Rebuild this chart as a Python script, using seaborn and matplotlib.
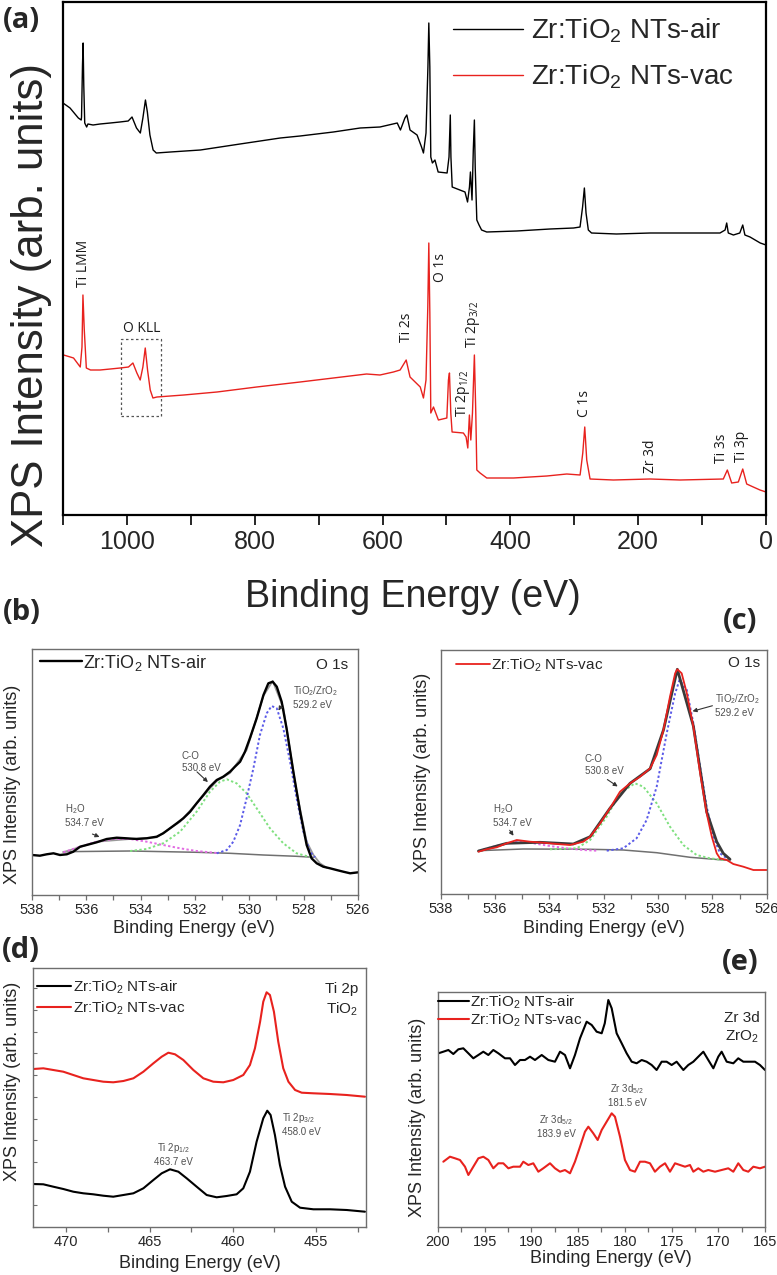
import matplotlib
matplotlib.use("Agg")
import matplotlib.pyplot as plt
import matplotlib.patches as patches
from matplotlib.ticker import MultipleLocator
import seaborn as sns

# ---------------- data ----------------
# (a) survey spectra: binding energy (eV) / intensity (arb.)
air_survey_ev = [1100, 1089, 1076, 1071.5, 1071, 1069.5, 1068.5, 1067.5, 1066, 1063, 1061, 1053, 1042, 1026, 1011, 998,
                 992, 985, 979, 975, 971, 968, 964, 959, 954, 932, 885, 823, 760, 729, 677, 635, 604, 577, 572, 565,
                 562, 557, 546, 539, 536, 532, 529, 527.6, 526, 524.5, 522, 518, 513, 499, 496, 494, 493, 491, 479,
                 471, 467, 464, 462.5, 460, 458, 456.3, 455, 452.5, 449, 445, 437, 390, 338, 301, 291, 287, 284.2,
                 281.6, 278, 273, 234, 181, 129, 72, 64, 61.5, 59, 51, 41, 36.4, 33, 25, 17, 9, 0]
air_survey_int = [412, 407, 397, 395, 398, 450, 472, 430, 392, 388, 391, 390, 391, 392, 393, 394,
                  398, 387, 382, 397, 415, 403, 380, 365, 362, 363, 365, 371, 377, 379, 383, 387, 388, 392, 385, 397,
                  400, 385, 380, 368, 362, 382, 448, 492, 448, 358, 352, 355, 343, 342, 358, 400, 358, 328, 325,
                  323, 313, 328, 343, 315, 365, 395, 348, 295, 290, 285, 283, 284, 286, 287, 288, 308, 327,
                  302, 285, 282, 281, 282, 282, 282, 285, 292, 282, 280, 282, 290, 280, 278, 275, 272, 270]
vac_survey_ev = [1099, 1083.5, 1073, 1070.3, 1068.8, 1066.7, 1063.5, 1057, 1042, 1026, 1010.5, 997.5, 990.6, 984.4,
                 979.2, 975, 971.3, 967.7, 963.5, 959.3, 953, 911, 859, 797, 729, 677, 625, 604, 583, 572.5, 563,
                 557, 549, 541, 536, 532, 529.2, 527.6, 526, 524.5, 520.3, 512.6, 499.4, 496.9, 495.3, 493.2, 491.2,
                 473.5, 469.3, 466.6, 464.1, 461.9, 459.3, 456.3, 454.1, 452.5, 447.4, 436.9, 395, 343, 311.7,
                 290.9, 286.7, 283.6, 280.5, 275.3, 238.8, 181.4, 134.5, 66.8, 60.5, 53.7, 43.3, 36.4, 30.2, 19.9,
                 9.4, 0]
vac_survey_int = [160, 157, 148, 168, 220, 185, 147, 145, 145, 146, 147, 148, 152, 142,
                  135, 148, 167, 145, 125, 117, 118, 120, 123, 128, 133, 137, 141, 140, 143, 145, 155,
                  138, 133, 128, 117, 135, 208, 272, 202, 102, 108, 95, 97, 135, 142, 102, 83,
                  82, 78, 67, 100, 75, 102, 160, 102, 45, 42, 37, 37, 39, 41,
                  40, 62, 88, 55, 36, 35, 36, 35, 36, 45, 32, 33, 46, 31, 28,
                  25, 23]
survey_labels = ["Ti LMM", "Ti 2s", "O 1s", r"Ti 2p$_{1/2}$", r"Ti 2p$_{3/2}$", "C 1s", "Zr 3d", "Ti 3s", "Ti 3p"]
survey_label_ev = [1068, 562, 510, 473.5, 459, 284.7, 180, 69.6, 38.3]
survey_label_int = [228, 173, 233, 98, 167, 98, 42, 52, 53]
okll_box_ev = (1009, 946)
okll_box_int = (99, 176)

# (b) O 1s, air sample and its fit
b_air_ev = [538.0, 537.71, 537.46, 537.21, 536.97, 536.72, 536.48, 536.23, 535.99, 535.62, 535.25, 534.88,
            534.52, 534.15, 533.78, 533.41, 533.17, 532.92, 532.67, 532.43, 532.18, 531.94, 531.69, 531.45,
            531.2, 530.96, 530.71, 530.53, 530.34, 530.16, 529.98, 529.73, 529.48, 529.3, 529.14, 528.99,
            528.81, 528.63, 528.38, 528.13, 527.89, 527.71, 527.52, 527.28, 527.03, 526.79, 526.54, 526.29, 525.99]
b_air_int = [40, 39.3, 40.7, 41.7, 40, 40.7, 43.3, 48.3, 50, 52.7, 56, 57.3,
             56.7, 56, 56.7, 58.3, 61.7, 66.7, 71.7, 76.7, 83.3, 91.7, 100, 108.3,
             115, 118.3, 123.3, 128.3, 133.3, 143.3, 156.7, 176.7, 200, 211.7, 213.3, 208.3,
             193.3, 166.7, 123.3, 83.3, 50, 36.7, 31.7, 28.3, 26.7, 25, 23.3, 21.7, 22.7]
b_env_ev = [536.85, 535.62, 534.39, 533.41, 532.55, 531.69, 531.2, 530.71, 530.1, 529.48, 529.14, 528.75, 528.26,
            527.89, 527.64, 527.4, 527.15]
b_env_int = [42.7, 53.3, 56, 57.7, 73.3, 99.3, 114, 122, 145, 199.3, 214, 187.3, 103.3, 53.3, 40, 31.7, 27.3]
b_bg_ev = [536.85, 534.39, 531.94, 530.71, 529.48, 528.26, 527.64]
b_bg_int = [43.3, 44, 42.7, 41.7, 40, 38.7, 37.7]
b_oxide_ev = [531.2, 530.83, 530.59, 530.34, 530.1, 529.85, 529.61, 529.36, 529.18, 528.99, 528.75, 528.5, 528.26,
              528.01, 527.77, 527.58]
b_oxide_int = [41.7, 45, 53.3, 70, 96.7, 126.7, 160, 181.7, 189, 186.7, 166.7, 133.3, 96.7, 63.3, 43.3, 37.7]
b_co_ev = [534.39, 533.78, 533.17, 532.55, 531.94, 531.45, 531.08, 530.83, 530.47, 530.1, 529.73, 529.24, 528.75,
           528.26, 527.77]
b_co_int = [44, 46, 51.7, 63.3, 83.3, 103.3, 113.3, 115.7, 111.7, 101.7, 86.7, 66.7, 51.7, 41.7, 38]
b_h2o_ev = [536.85, 536.23, 535.62, 535.01, 534.39, 533.78, 533.17, 532.55, 531.94, 531.2]
b_h2o_int = [42.7, 48.3, 53.3, 56, 56, 53.3, 50, 46.7, 44, 42]

# (c) O 1s, vacuum sample and its fit
c_vac_ev = [536.61, 536.31, 535.94, 535.57, 535.2, 534.71, 534.22, 533.73, 533.24, 532.75, 532.5, 532.13, 531.77,
            531.4, 531.03, 530.66, 530.29, 530.05, 529.8, 529.56, 529.37, 529.29, 529.13, 528.94, 528.7, 528.45,
            528.21, 528.02, 527.84, 527.72, 527.47, 527.23, 526.86, 526.49, 526.0]
c_vac_int = [42.3, 44.7, 46.7, 50.7, 54, 52.3, 51.3, 50, 49, 52.3, 57.3, 70.7, 85.7,
             102.3, 110.7, 117.3, 125.7, 139, 164, 197.3, 220.7, 224.7, 220.7, 200.7, 167.3, 120.7,
             80.7, 57.3, 40.7, 35.7, 34, 30, 27.3, 24, 24]
c_env_ev = [536.61, 535.57, 534.34, 533.12, 532.5, 531.77, 531.03, 530.29, 529.8, 529.29, 528.7, 528.21, 527.84,
            527.6, 527.35]
c_env_int = [43, 50.7, 51.7, 50, 57.3, 85.7, 110.7, 125.3, 164, 224.7, 168, 82.3, 52.3, 40.7, 34.7]
c_bg_ev = [536.61, 534.96, 532.5, 531.28, 530.05, 528.82, 527.6, 527.35]
c_bg_int = [43.3, 45, 44.7, 44, 41.3, 36.7, 34, 34]
c_oxide_ev = [531.89, 531.28, 530.79, 530.42, 530.05, 529.68, 529.37, 529.21, 528.94, 528.7, 528.45, 528.21, 527.96,
              527.72, 527.47]
c_oxide_int = [43.3, 45.7, 55.7, 74, 107.3, 160.7, 200.7, 214, 204, 170.7, 127.3, 87.3, 57.3, 40.7, 35.7]
c_co_ev = [533.98, 532.99, 532.5, 531.89, 531.4, 530.85, 530.54, 530.05, 529.56, 529.07, 528.58, 528.09, 527.6]
c_co_int = [44.7, 45.7, 54, 77.3, 100.7, 110.7, 107.3, 90.7, 67.3, 49, 39, 35.7, 34]
c_h2o_ev = [536.43, 535.82, 535.2, 534.59, 533.98, 533.36, 532.75, 532.26]
c_h2o_int = [44.7, 49, 52.3, 50.7, 48, 45.7, 44, 43.3]

# (d) Ti 2p
d_ev = [471.98, 471.38, 470.78, 470.18, 469.58, 468.98, 468.38, 467.78, 467.18, 466.57, 465.97, 465.37, 464.77,
        464.27, 463.87, 463.47, 462.97, 462.37, 461.77, 461.17, 460.57, 459.97, 459.37, 458.97, 458.67, 458.36,
        458.17, 457.97, 457.77, 457.53, 457.27, 456.97, 456.66, 456.26, 455.86, 455.16, 454.16, 453.16, 452.06]
d_vac_int = [158, 158.7, 157, 155.3, 152, 148.7, 147, 145.3, 144.7, 146, 148.7, 155.3, 163.7,
             170.3, 174.3, 172.7, 167, 157, 148.7, 145.3, 144.7, 147, 152, 162, 178.7, 205.3,
             225.3, 234.7, 232, 215.3, 185.3, 158.7, 145.3, 137, 134.3, 133.7, 133, 132, 130.3]
d_air_ev = [471.98, 471.38, 470.78, 470.18, 469.58, 468.98, 468.38, 467.78, 467.18, 466.57, 465.97, 465.37, 464.77,
            464.27, 463.77, 463.27, 462.77, 462.17, 461.57, 460.97, 460.37, 459.77, 459.37, 458.97, 458.57, 458.17,
            457.93, 457.73, 457.47, 457.17, 456.86, 456.46, 455.96, 455.16, 454.16, 453.16, 452.06]
d_air_int = [43, 42.7, 40.3, 38, 35.3, 33.7, 32.7, 31.3, 30.3, 32, 33.7, 38.7, 47,
             53.7, 57.7, 55.3, 48.7, 40.3, 32, 29.7, 31, 32.7, 38.7, 55.3, 85.3, 108.7,
             116.3, 112, 92, 62, 40.3, 25.3, 19.3, 17.7, 17.7, 17, 15.3]

# (e) Zr 3d
e_air_ev = [199.96, 199.43, 198.89, 198.36, 197.82, 197.29, 196.75, 196.22, 195.68, 195.15, 194.61, 194.08, 193.54,
            192.83, 192.29, 191.76, 191.22, 190.69, 190.15, 189.62, 188.9, 188.19, 187.48, 186.94, 186.41, 185.87,
            185.34, 184.8, 184.09, 183.55, 183.02, 182.48, 182.15, 181.77, 181.41, 180.88, 180.34, 179.81, 179.27,
            178.74, 178.2, 177.67, 177.13, 176.6, 176.06, 175.53, 174.99, 174.46, 173.74, 173.21, 172.67, 172.14,
            171.6, 171.07, 170.53, 170.0, 169.64, 169.1, 168.39, 167.86, 167.32, 166.61, 166.07, 165.54, 165.0]
e_air_int = [173.7, 175.3, 177, 173, 177.7, 178.7, 173.7, 168.7, 172, 175.3, 172, 177, 173.7,
             168.7, 168.7, 162, 167, 167, 170.3, 167, 172, 167, 165.3, 175.3, 172, 158.7,
             172, 188.7, 205.3, 202, 195.3, 193.7, 203.7, 227, 218.7, 193.7, 183.7, 173.7, 165.3,
             163.7, 167, 165.3, 162, 157, 165.3, 165.3, 162, 165.3, 157, 162, 165.3, 170.3,
             175.3, 167, 158.7, 170.3, 175.3, 165.3, 163.7, 168.7, 165.3, 165.3, 165.3, 162, 157]
e_vac_ev = [199.43, 198.72, 198.18, 197.65, 197.11, 196.75, 196.22, 195.68, 195.15, 194.61, 194.08, 193.54, 193.01,
            192.47, 191.94, 191.22, 190.87, 190.33, 189.8, 189.26, 188.73, 188.01, 187.48, 186.94, 186.41, 185.87,
            185.34, 184.8, 184.27, 183.91, 183.38, 182.91, 182.48, 181.95, 181.41, 181.06, 180.52, 179.99, 179.45,
            178.92, 178.38, 177.85, 177.31, 176.78, 176.24, 175.7, 175.17, 174.63, 174.1, 173.56, 173.03, 172.67,
            172.14, 171.6, 171.07, 170.35, 169.64, 168.93, 168.39, 167.86, 167.32, 166.79, 166.25, 165.54, 165.0]
e_vac_int = [65.3, 70.3, 68.7, 67, 60.3, 52, 60.3, 68.7, 70.3, 67, 58.7, 63.7, 63.7,
             58.7, 60.3, 60.3, 65.3, 62, 63.7, 55.3, 58.7, 63.7, 58.7, 55.3, 57, 53.7,
             65.3, 80.3, 95.3, 100.3, 93.7, 87, 97, 105.3, 113.7, 110.3, 90.3, 67, 57,
             55.3, 65.3, 65.3, 63.7, 55.3, 60.3, 63.7, 55.3, 63.7, 62, 60.3, 62, 55.3,
             58.7, 55.3, 57, 55.3, 57, 58.7, 55.3, 63.7, 57, 55.3, 60.3, 58.7, 60.3]

AIR = r"Zr:TiO$_2$ NTs-air"
VAC = r"Zr:TiO$_2$ NTs-vac"
RED = "#e8221e"
ANN = "#505050"
FRAME = "#6e6e6e"

sns.set_theme(style="ticks")
plt.rcParams["font.family"] = ["Liberation Sans", "DejaVu Sans"]
plt.rcParams["mathtext.default"] = "regular"

W, H = 777, 1275
fig = plt.figure(figsize=(W / 100, H / 100), dpi=100)


def box(l, t, r, b):
    return [l / W, 1 - b / H, (r - l) / W, (b - t) / H]


def small_axes(ax, xlim, ylim, major, minor, ylab_x, ylab_y, xlab_x, xlab_y):
    ax.set_xlim(*xlim)
    ax.set_ylim(*ylim)
    ax.xaxis.set_major_locator(MultipleLocator(major))
    ax.xaxis.set_minor_locator(MultipleLocator(minor))
    ax.set_yticks([])
    for s in ax.spines.values():
        s.set_visible(True)
        s.set_color(FRAME)
        s.set_linewidth(1.0)
    ax.tick_params(axis="x", which="both", direction="out", length=3.5, width=0.9, color=FRAME,
                   labelsize=10.5, pad=2.5)
    ax.set_xlabel("Binding Energy (eV)", fontsize=13)
    ax.set_ylabel("XPS Intensity (arb. units)", fontsize=13)
    ax.xaxis.set_label_coords(xlab_x, xlab_y)
    ax.yaxis.set_label_coords(ylab_x, ylab_y)


def note(ax, text, pos, ha="left"):
    ax.text(pos[0], pos[1], text, fontsize=7, color=ANN, ha=ha, va="center", linespacing=1.3)


def arrow(ax, start, end):
    ax.annotate("", xy=end, xytext=start,
                arrowprops=dict(arrowstyle="-|>", color="#333333", lw=0.8, mutation_scale=6))


# ---------------- (a) survey ----------------
ax = fig.add_axes(box(63, 2, 766, 515))
sns.lineplot(x=air_survey_ev, y=air_survey_int, ax=ax, color="black", lw=1.0, sort=False, estimator=None, label=AIR)
sns.lineplot(x=vac_survey_ev, y=vac_survey_int, ax=ax, color=RED, lw=1.0, sort=False, estimator=None, label=VAC)
ax.set_xlim(1100, 0)
ax.set_ylim(0, 513)
ax.set_yticks([])
ax.xaxis.set_major_locator(MultipleLocator(200))
ax.xaxis.set_minor_locator(MultipleLocator(100))
for s in ax.spines.values():
    s.set_visible(True)
    s.set_color("black")
    s.set_linewidth(1.6)
ax.tick_params(axis="x", which="both", direction="out", length=7, width=1.4, labelsize=18, pad=4)
ax.set_xlabel("Binding Energy (eV)", fontsize=27)
ax.set_ylabel("XPS Intensity (arb. units)", fontsize=31.5)
ax.xaxis.set_label_coords(0.497, -0.125)
ax.yaxis.set_label_coords(-0.016, 0.41)
ax.legend(loc="upper left", bbox_to_anchor=(0.555, 0.972), frameon=False, fontsize=20, handlelength=2.5,
          handletextpad=0.3, labelspacing=0.65, borderpad=0, borderaxespad=0)
for lab, xe, yi in zip(survey_labels, survey_label_ev, survey_label_int):
    ax.text(xe, yi, lab, rotation=90, ha="center", va="bottom", fontsize=10, color="#1a1a1a",
            family=["Open Sans", "DejaVu Sans"])
ax.text(977, 187, "O KLL", ha="center", va="center", fontsize=10, color="#1a1a1a", family=["Open Sans", "DejaVu Sans"])
ax.add_patch(patches.Rectangle((okll_box_ev[0], okll_box_int[0]), okll_box_ev[1] - okll_box_ev[0],
                               okll_box_int[1] - okll_box_int[0], fill=False, ls=(0, (2, 2)), lw=0.9,
                               edgecolor="#555555"))

# ---------------- (b) O 1s air ----------------
ax = fig.add_axes(box(32, 649, 358, 895))
sns.lineplot(x=b_bg_ev, y=b_bg_int, ax=ax, color="#707070", lw=1.1, sort=False, estimator=None)
sns.lineplot(x=b_env_ev, y=b_env_int, ax=ax, color="#9a9a9a", lw=1.3, sort=False, estimator=None)
sns.lineplot(x=b_h2o_ev, y=b_h2o_int, ax=ax, color="#e36be3", lw=1.4, ls=(0, (1.2, 1.2)), sort=False, estimator=None)
sns.lineplot(x=b_co_ev, y=b_co_int, ax=ax, color="#7fe07f", lw=1.4, ls=(0, (1.2, 1.2)), sort=False, estimator=None)
sns.lineplot(x=b_oxide_ev, y=b_oxide_int, ax=ax, color="#5a5ae8", lw=1.4, ls=(0, (1.2, 1.2)), sort=False, estimator=None)
sns.lineplot(x=b_air_ev, y=b_air_int, ax=ax, color="black", lw=1.7, sort=False, estimator=None, label=AIR)
small_axes(ax, (538, 526), (0, 246), 2, 1, -0.034, 0.45, 0.497, -0.102)
ax.legend(loc="upper left", bbox_to_anchor=(0.025, 0.985), frameon=False, fontsize=13, handlelength=2.3,
          handletextpad=0.1, borderpad=0, borderaxespad=0)
ax.text(0.969, 0.935, "O 1s", transform=ax.transAxes, ha="right", va="center", fontsize=11)
note(ax, "TiO$_2$/ZrO$_2$\n529.2 eV", (528.4, 198))
arrow(ax, (528.76, 192), (528.98, 182))
note(ax, "C-O\n530.8 eV", (532.48, 133))
arrow(ax, (532.0, 125), (531.45, 111))
note(ax, "H$_2$O\n534.7 eV", (536.79, 80))
arrow(ax, (535.87, 62), (535.42, 57))

# ---------------- (c) O 1s vac ----------------
ax = fig.add_axes(box(440.7, 650, 766.7, 894))
sns.lineplot(x=c_bg_ev, y=c_bg_int, ax=ax, color="#707070", lw=1.1, sort=False, estimator=None)
sns.lineplot(x=c_h2o_ev, y=c_h2o_int, ax=ax, color="#e36be3", lw=1.4, ls=(0, (1.2, 1.2)), sort=False, estimator=None)
sns.lineplot(x=c_co_ev, y=c_co_int, ax=ax, color="#7fe07f", lw=1.4, ls=(0, (1.2, 1.2)), sort=False, estimator=None)
sns.lineplot(x=c_oxide_ev, y=c_oxide_int, ax=ax, color="#5a5ae8", lw=1.4, ls=(0, (1.2, 1.2)), sort=False, estimator=None)
sns.lineplot(x=c_env_ev, y=c_env_int, ax=ax, color="#3a3a3a", lw=2.0, sort=False, estimator=None)
sns.lineplot(x=c_vac_ev, y=c_vac_int, ax=ax, color=RED, lw=1.3, sort=False, estimator=None, label=VAC)
small_axes(ax, (538, 526), (0, 244), 2, 1, -0.030, 0.5, 0.5, -0.107)
ax.legend(loc="upper left", bbox_to_anchor=(0.047, 0.975), frameon=False, fontsize=11, handlelength=2.2,
          handletextpad=0.1, borderpad=0, borderaxespad=0)
ax.text(0.98, 0.947, "O 1s", transform=ax.transAxes, ha="right", va="center", fontsize=11)
note(ax, "TiO$_2$/ZrO$_2$\n529.2 eV", (527.9, 189))
arrow(ax, (527.9, 189), (528.83, 182))
note(ax, "C-O\n530.8 eV", (532.69, 129))
arrow(ax, (531.95, 116), (531.4, 106))
note(ax, "H$_2$O\n534.7 eV", (536.07, 79))
arrow(ax, (535.52, 66), (535.26, 56))

# ---------------- (d) Ti 2p ----------------
ax = fig.add_axes(box(33, 968, 366, 1227))
sns.lineplot(x=d_air_ev, y=d_air_int, ax=ax, color="black", lw=1.5, sort=False, estimator=None, label=AIR)
sns.lineplot(x=d_ev, y=d_vac_int, ax=ax, color=RED, lw=1.5, sort=False, estimator=None, label=VAC)
small_axes(ax, (472, 452), (0, 259), 5, 2.5, -0.036, 0.564, 0.5, -0.108)
ax.yaxis.set_major_locator(MultipleLocator(21.7))
ax.tick_params(axis="y", which="both", direction="in", length=3, width=0.8, color=FRAME, labelleft=False)
ax.legend(loc="upper left", bbox_to_anchor=(0.012, 0.96), frameon=False, fontsize=11, handlelength=2.2,
          handletextpad=0.15, labelspacing=0.25, borderpad=0, borderaxespad=0)
ax.text(0.928, 0.876, "Ti 2p\nTiO$_2$", transform=ax.transAxes, ha="center", va="center", fontsize=11,
        linespacing=1.3)
ax.text(463.56, 73, "Ti 2p$_{1/2}$\n463.7 eV", ha="center", va="center", fontsize=7, color=ANN, linespacing=1.3)
ax.text(457.04, 103, "Ti 2p$_{3/2}$\n458.0 eV", ha="left", va="center", fontsize=7, color=ANN, linespacing=1.3)

# ---------------- (e) Zr 3d ----------------
ax = fig.add_axes(box(438, 992, 765, 1227))
sns.lineplot(x=e_air_ev, y=e_air_int, ax=ax, color="black", lw=1.5, sort=False, estimator=None, label=AIR)
sns.lineplot(x=e_vac_ev, y=e_vac_int, ax=ax, color=RED, lw=1.5, sort=False, estimator=None, label=VAC)
small_axes(ax, (200, 165), (0, 235), 5, 2.5, -0.037, 0.468, 0.53, -0.098)
ax.legend(loc="upper left", bbox_to_anchor=(0.0, 0.995), frameon=False, fontsize=11, handlelength=2.0,
          handletextpad=0.1, labelspacing=0.05, borderpad=0, borderaxespad=0)
ax.text(0.93, 0.847, "Zr 3d\nZrO$_2$", transform=ax.transAxes, ha="center", va="center", fontsize=11,
        linespacing=1.3)
ax.text(179.72, 132, "Zr 3d$_{5/2}$\n181.5 eV", ha="center", va="center", fontsize=7, color=ANN, linespacing=1.3)
ax.text(187.37, 101, "Zr 3d$_{5/2}$\n183.9 eV", ha="center", va="center", fontsize=7, color=ANN, linespacing=1.3)

# ---------------- panel letters ----------------
for lab, px, py in [("(a)", 21, 20), ("(b)", 22, 612), ("(c)", 740, 622), ("(d)", 21, 951), ("(e)", 740, 963)]:
    fig.text(px / W, 1 - py / H, lab, ha="center", va="center", fontsize=21, fontweight="bold",
             family=["Open Sans", "DejaVu Sans"])

fig.savefig("out.png", dpi=100)
